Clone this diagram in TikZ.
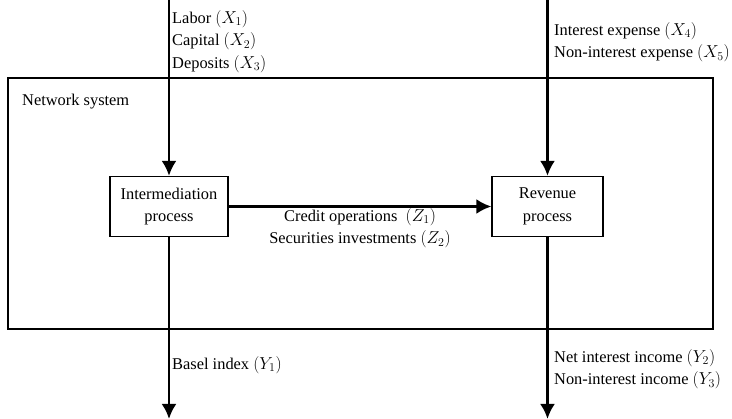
\documentclass[tikz,border=0pt]{standalone}
\usepackage{fontspec}
\setmainfont{Liberation Serif}
\usetikzlibrary{arrows.meta}
\begin{document}
\begin{tikzpicture}[x=1pt,y=-1pt,font=\fontsize{16.4}{22.5}\selectfont,
  proc/.style={draw,line width=1.2pt,align=center,minimum width=118pt,minimum height=60pt,inner sep=0pt},
  flow/.style={->,>={Latex[length=15pt,width=15pt]},line width=2.8pt},
  lab/.style={align=left,inner sep=0pt,anchor=north west}]
\useasboundingbox (0,0) rectangle (732,419);
% outer system
\draw[line width=1.2pt] (8,78) rectangle (713,329);
\node[anchor=west,inner sep=0pt] (NS) at (22,102) {Network system};
% processes
\node[proc] (IP) at (169,206.5) {Intermediation\\process};
\node[proc,minimum width=111pt] (RP) at (547.5,206.5) {Revenue\\process};
% free ends
\coordinate (inL) at (169,0);
\coordinate (inR) at (547.5,0);
\coordinate (outL) at (169,419);
\coordinate (outR) at (547.5,419);
% flows
\draw[flow] (inL) -- (IP);
\draw[flow] (inR) -- (RP);
\draw[flow] (IP) -- (RP);
\draw[flow] (IP) -- (outL);
\draw[flow] (RP) -- (outR);
% labels
\node[lab] (XL) at (172,10) {Labor $(X_1)$\\Capital $(X_2)$\\Deposits $(X_3)$};
\node[lab] (XR) at (554,22) {Interest expense $(X_4)$\\Non-interest expense $(X_5)$};
\node[align=center,inner sep=0pt,anchor=north] (Z) at (360,208) {Credit operations~~$(Z_1)$\\Securities investments $(Z_2)$};
\node[lab] (YL) at (172,356) {Basel index $(Y_1)$};
\node[lab] (YR) at (554,349) {Net interest income $(Y_2)$\\Non-interest income $(Y_3)$};
\end{tikzpicture}
\end{document}
